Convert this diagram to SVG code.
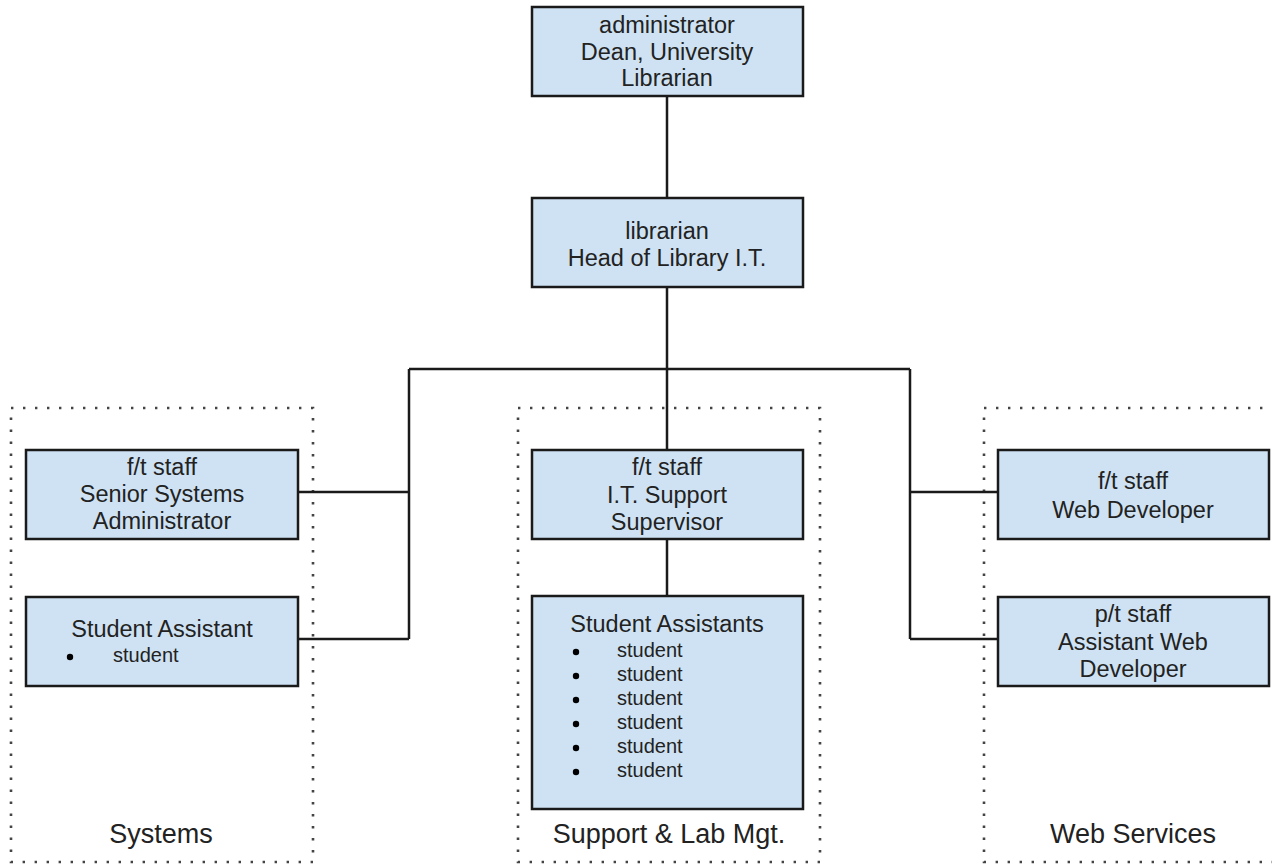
<svg xmlns="http://www.w3.org/2000/svg" width="1272" height="864" viewBox="0 0 1272 864">
<style>
.box{fill:#cfe2f3;stroke:#1a1a1a;stroke-width:2.5}
.grp{fill:none;stroke:#444;stroke-width:2.6;stroke-dasharray:2.4 9.6}
.t{font-family:"Liberation Sans",Arial,sans-serif;font-size:23.5px;fill:#222;text-anchor:middle}
.s{font-family:"Liberation Sans",Arial,sans-serif;font-size:20px;fill:#222}
.g{font-family:"Liberation Sans",Arial,sans-serif;font-size:27px;fill:#222;text-anchor:middle}
.c{fill:none;stroke:#1a1a1a;stroke-width:2.5}
</style>
<rect width="1272" height="864" fill="#fff"/>
<g id="groups">
<rect class="grp" x="11" y="408" width="302" height="454"/>
<rect class="grp" x="518" y="408" width="302" height="454"/>
<rect class="grp" x="984" y="408" width="320" height="454"/>
<text class="g" x="161" y="843">Systems</text>
<text class="g" x="669" y="843">Support &amp; Lab Mgt.</text>
<text class="g" x="1133" y="843">Web Services</text>
</g>
<g id="connectors">
<path class="c" d="M667 97V449"/>
<path class="c" d="M409 369H910"/>
<path class="c" d="M409 369V639M298 492H409M298 639H409"/>
<path class="c" d="M910 369V639M998 492H910M998 639H910"/>
<path class="c" d="M667 539V596"/>
</g>
<g id="dean">
<rect class="box" x="532" y="7" width="271" height="89"/>
<text class="t" x="667" y="33">administrator</text>
<text class="t" x="667" y="59.5">Dean, University</text>
<text class="t" x="667" y="86">Librarian</text>
</g>
<g id="head">
<rect class="box" x="532" y="198" width="271" height="89"/>
<text class="t" x="667" y="239">librarian</text>
<text class="t" x="667" y="265.5">Head of Library I.T.</text>
</g>
<g id="sysadmin">
<rect class="box" x="26" y="450" width="272" height="89"/>
<text class="t" x="162" y="475">f/t staff</text>
<text class="t" x="162" y="502">Senior Systems</text>
<text class="t" x="162" y="529">Administrator</text>
</g>
<g id="sysstudent">
<rect class="box" x="26" y="597" width="272" height="89"/>
<text class="t" x="162" y="637">Student Assistant</text>
<circle cx="70" cy="657" r="3.2"/>
<text class="s" x="113" y="662">student</text>
</g>
<g id="supervisor">
<rect class="box" x="532" y="450" width="271" height="89"/>
<text class="t" x="667" y="475">f/t staff</text>
<text class="t" x="667" y="503">I.T. Support</text>
<text class="t" x="667" y="530">Supervisor</text>
</g>
<g id="students">
<rect class="box" x="532" y="596" width="271" height="213"/>
<text class="t" x="667" y="632">Student Assistants</text>
<circle cx="576" cy="652" r="3.2"/><text class="s" x="617" y="657">student</text>
<circle cx="576" cy="676" r="3.2"/><text class="s" x="617" y="681">student</text>
<circle cx="576" cy="700" r="3.2"/><text class="s" x="617" y="705">student</text>
<circle cx="576" cy="724" r="3.2"/><text class="s" x="617" y="729">student</text>
<circle cx="576" cy="748" r="3.2"/><text class="s" x="617" y="753">student</text>
<circle cx="576" cy="772" r="3.2"/><text class="s" x="617" y="777">student</text>
</g>
<g id="webdev">
<rect class="box" x="998" y="450" width="271" height="89"/>
<text class="t" x="1133" y="489">f/t staff</text>
<text class="t" x="1133" y="518">Web Developer</text>
</g>
<g id="asstwebdev">
<rect class="box" x="998" y="597" width="271" height="89"/>
<text class="t" x="1133" y="622">p/t staff</text>
<text class="t" x="1133" y="650">Assistant Web</text>
<text class="t" x="1133" y="677">Developer</text>
</g>
</svg>
